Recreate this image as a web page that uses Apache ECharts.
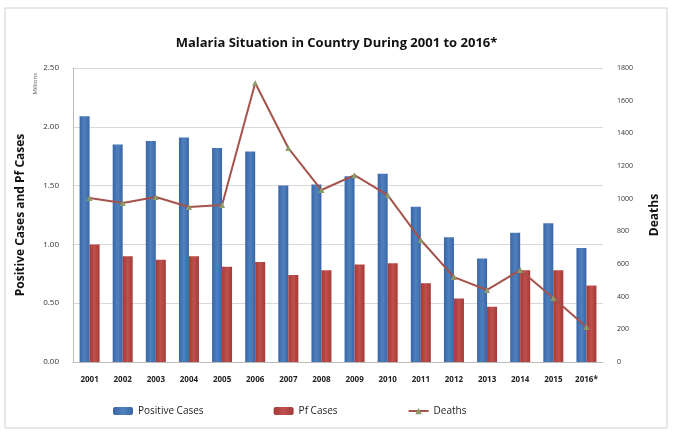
<!DOCTYPE html>
<html><head><meta charset="utf-8">
<script src="https://cdn.jsdelivr.net/npm/echarts@6/dist/echarts.min.js"></script>
<style>html,body{margin:0;padding:0;background:#fff}#c{width:673px;height:435px}</style>
</head><body><div id="c"></div>
<script>
const years = ['2001','2002','2003','2004','2005','2006','2007','2008','2009','2010','2011','2012','2013','2014','2015','2016*'];
const positiveCases = [2.09,1.85,1.88,1.91,1.82,1.79,1.50,1.51,1.58,1.60,1.32,1.06,0.88,1.10,1.18,0.97];
const pfCases = [1.00,0.90,0.87,0.90,0.81,0.85,0.74,0.78,0.83,0.84,0.67,0.54,0.47,0.78,0.78,0.65];
const deaths = [1004,973,1010,949,961,1708,1310,1053,1144,1022,747,520,441,563,392,214];
const leftTicks = {min:0,max:2.5,interval:0.5};
const rightTicks = {min:0,max:1800,interval:200};

const chart = echarts.init(document.getElementById('c'));
const fnt = '"Open Sans", "Liberation Sans", sans-serif';
chart.setOption({
  animation:false,
  textStyle:{fontFamily:fnt},
  graphic:[
    {type:'rect',shape:{x:5,y:8,width:662,height:420},style:{fill:'none',stroke:'#d0d0d0',lineWidth:1}},
    {type:'text',left:32,top:73,rotation:Math.PI/2,style:{text:'Millions',fontSize:6,fill:'#555',fontFamily:fnt}}
  ],
  title:{text:'Malaria Situation in Country During 2001 to 2016*',left:'center',top:32,
    textStyle:{fontSize:13,fontWeight:'bold',color:'#111',fontFamily:fnt}},
  grid:{left:73,right:70,top:68,bottom:73},
  legend:{bottom:14,left:108,itemGap:70,itemWidth:20,itemHeight:8,
    textStyle:{fontSize:10,color:'#222',fontFamily:fnt},
    data:['Positive Cases','Pf Cases','Deaths']},
  xAxis:{type:'category',data:years,
    axisLine:{lineStyle:{color:'#bbb'}},axisTick:{show:false},
    axisLabel:{fontSize:8,fontWeight:'bold',color:'#222',margin:14}},
  yAxis:[
    {type:'value',min:leftTicks.min,max:leftTicks.max,interval:leftTicks.interval,
     name:'Positive Cases and Pf Cases',nameLocation:'middle',nameGap:46,
     nameTextStyle:{fontSize:12,fontWeight:'bold',color:'#111'},
     axisLine:{show:true,lineStyle:{color:'#bbb'}},
     axisLabel:{fontSize:8,color:'#333',margin:14,formatter:v=>v.toFixed(2)},
     splitLine:{lineStyle:{color:'#d8d8d8'}}},
    {type:'value',min:rightTicks.min,max:rightTicks.max,interval:rightTicks.interval,
     name:'Deaths',nameLocation:'middle',nameGap:46,nameRotate:90,
     nameTextStyle:{fontSize:12,fontWeight:'bold',color:'#111'},
     axisLine:{show:false},axisLabel:{fontSize:7,color:'#333',margin:14,formatter:v=>String(v)},
     splitLine:{show:false}}
  ],
  series:[
    {name:'Positive Cases',type:'bar',data:positiveCases,barWidth:10,barGap:'0%',
     itemStyle:{color:new echarts.graphic.LinearGradient(0,0,1,0,[{offset:0,color:'#3a65a8'},{offset:0.5,color:'#4f81bd'},{offset:1,color:'#3a65a8'}])}},
    {name:'Pf Cases',type:'bar',data:pfCases,barWidth:10,barGap:'0%',
     itemStyle:{color:new echarts.graphic.LinearGradient(0,0,1,0,[{offset:0,color:'#a33a37'},{offset:0.5,color:'#c0504d'},{offset:1,color:'#a33a37'}])}},
    {name:'Deaths',type:'line',yAxisIndex:1,data:deaths,symbol:'triangle',symbolSize:6,
     lineStyle:{color:'#a5524b',width:2},itemStyle:{color:'#8c9a6a'}}
  ]
});
</script></body></html>
